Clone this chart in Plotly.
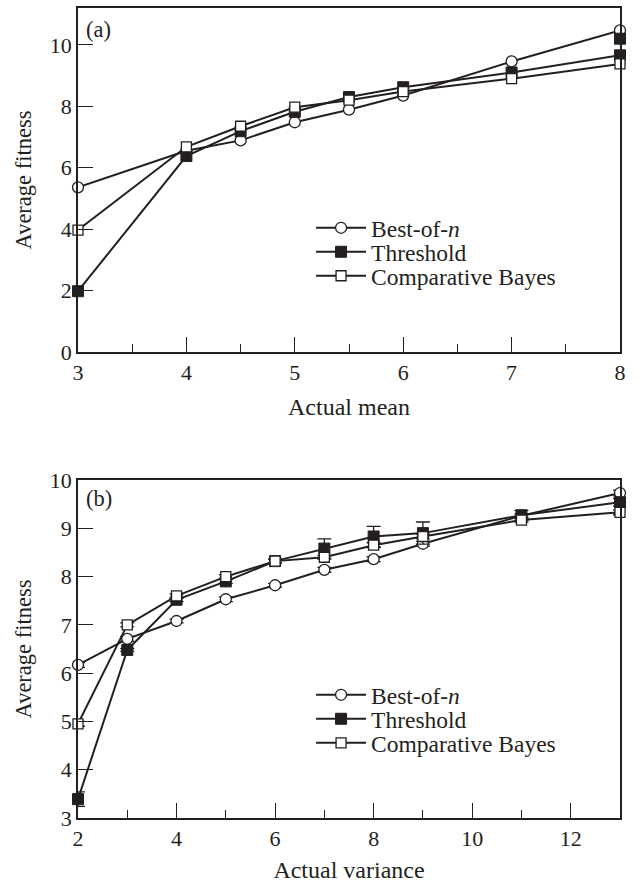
import plotly.graph_objects as go

# ---- Panel (a): fitness vs actual mean ----
x_mean = [3, 4, 4.5, 5, 5.5, 6, 7, 8]
best_a = [5.36, 6.55, 6.89, 7.48, 7.89, 8.35, 9.46, 10.47]
thr_a = [1.98, 6.38, 7.19, 7.82, 8.30, 8.62, 9.10, 9.66]
cb_a = [3.97, 6.68, 7.35, 7.97, 8.20, 8.48, 8.90, 9.38]
thr_a_extra_x = [8]
thr_a_extra_y = [10.20]

# ---- Panel (b): fitness vs actual variance ----
x_var = [2, 3, 4, 5, 6, 7, 8, 9, 11, 13]
best_b = [6.17, 6.71, 7.08, 7.53, 7.82, 8.14, 8.36, 8.68, 9.26, 9.73]
thr_b = [3.39, 6.48, 7.52, 7.90, 8.32, 8.58, 8.83, 8.90, 9.27, 9.54]
cb_b = [4.95, 7.00, 7.60, 8.00, 8.32, 8.40, 8.65, 8.83, 9.17, 9.33]
best_b_err = [0.05, 0.05, 0.04, 0.05, 0.04, 0.05, 0.05, 0.05, 0.04, 0.06]
thr_b_err = [0.15, 0.03, 0.04, 0.04, 0.04, 0.20, 0.21, 0.23, 0.10, 0.08]
cb_b_err = [0.05, 0.04, 0.04, 0.04, 0.04, 0.04, 0.05, 0.05, 0.04, 0.05]

names = ["Best-of-<i>n</i>", "Threshold", "Comparative Bayes"]

INK = "#231f20"
FONT = "Liberation Serif"

fig = go.Figure()

def marker(kind):
    if kind == 0:
        return dict(symbol="circle", size=11, color="white", line=dict(color=INK, width=1.3))
    if kind == 1:
        return dict(symbol="square", size=11, color=INK, line=dict(color=INK, width=1))
    return dict(symbol="square", size=10, color="white", line=dict(color=INK, width=1.3))

legend_ids_a = ["legend", "legend2", "legend3"]
legend_ids_b = ["legend4", "legend5", "legend6"]

series_a = [best_a, thr_a, cb_a]
for k, ys in enumerate(series_a):
    fig.add_trace(go.Scatter(
        x=x_mean, y=ys, mode="lines+markers", name=names[k],
        line=dict(color=INK, width=2), marker=marker(k),
        cliponaxis=False, xaxis="x", yaxis="y", legend=legend_ids_a[k],
    ))
fig.add_trace(go.Scatter(
    x=thr_a_extra_x, y=thr_a_extra_y, mode="markers", showlegend=False,
    marker=marker(1), cliponaxis=False, xaxis="x", yaxis="y",
))

series_b = [best_b, thr_b, cb_b]
errs_b = [best_b_err, thr_b_err, cb_b_err]
for k, ys in enumerate(series_b):
    fig.add_trace(go.Scatter(
        x=x_var, y=ys, mode="lines+markers", name=names[k],
        line=dict(color=INK, width=2), marker=marker(k),
        error_y=dict(type="data", array=errs_b[k], color=INK, thickness=1.3, width=7),
        cliponaxis=False, xaxis="x2", yaxis="y2", legend=legend_ids_b[k],
    ))

axis_common = dict(
    showline=True, linecolor=INK, linewidth=1.5, mirror=True,
    ticks="inside", ticklen=15, tickwidth=1.3, tickcolor=INK,
    showgrid=False, zeroline=False,
    tickfont=dict(family=FONT, size=22, color=INK),
    automargin=False,
)

PLOT_BOTTOM = 818
PLOT_H = 810

def py(pixel_y):
    return (PLOT_BOTTOM - pixel_y) / PLOT_H

top_dom = [py(352), 1.0]
bot_dom = [0.0, py(480)]

xt_font = dict(family=FONT, size=24, color=INK)
yt_font = dict(family=FONT, size=22.5, color=INK)

legend_rows_a = [228, 252, 276]
legend_rows_b = [695, 719, 743]

def legend_cfg(row_px):
    return dict(x=0.43, y=py(row_px), xanchor="left", yanchor="middle",
                font=dict(family=FONT, size=23.5, color=INK), bgcolor="rgba(0,0,0,0)",
                itemwidth=50, tracegroupgap=0)

layout_legends = {}
for lid, row in zip(legend_ids_a + legend_ids_b, legend_rows_a + legend_rows_b):
    layout_legends[lid] = legend_cfg(row)

fig.update_layout(
    width=637, height=883,
    margin=dict(l=78, r=17, t=8, b=65),
    paper_bgcolor="white", plot_bgcolor="white",
    font=dict(family=FONT, color=INK),
    xaxis=dict(axis_common, domain=[0, 1], anchor="y", range=[3, 8], dtick=1, tick0=3,
               minor=dict(ticks="inside", ticklen=8, tickwidth=1.3, tickcolor=INK, dtick=0.5, tick0=3),
               title=dict(text="Actual mean", font=xt_font, standoff=14)),
    yaxis=dict(axis_common, domain=top_dom, anchor="x", range=[0, 11.2], dtick=2, tick0=0,
               title=dict(text="Average fitness", font=yt_font, standoff=12)),
    xaxis2=dict(axis_common, domain=[0, 1], anchor="y2", range=[2, 13], dtick=2, tick0=2,
                minor=dict(ticks="inside", ticklen=8, tickwidth=1.3, tickcolor=INK, dtick=1, tick0=2),
                title=dict(text="Actual variance", font=xt_font, standoff=14)),
    yaxis2=dict(axis_common, domain=bot_dom, anchor="x2", range=[3, 10], dtick=1, tick0=3,
                title=dict(text="Average fitness", font=yt_font, standoff=12)),
    showlegend=True,
    annotations=[
        dict(text="(a)", x=0.038, y=py(30), xref="paper", yref="paper", xanchor="center", yanchor="middle",
             showarrow=False, font=dict(family=FONT, size=22.5, color=INK)),
        dict(text="(b)", x=0.039, y=py(498), xref="paper", yref="paper", xanchor="center", yanchor="middle",
             showarrow=False, font=dict(family=FONT, size=22.5, color=INK)),
    ],
    **layout_legends,
)

fig.write_html("out.html")
